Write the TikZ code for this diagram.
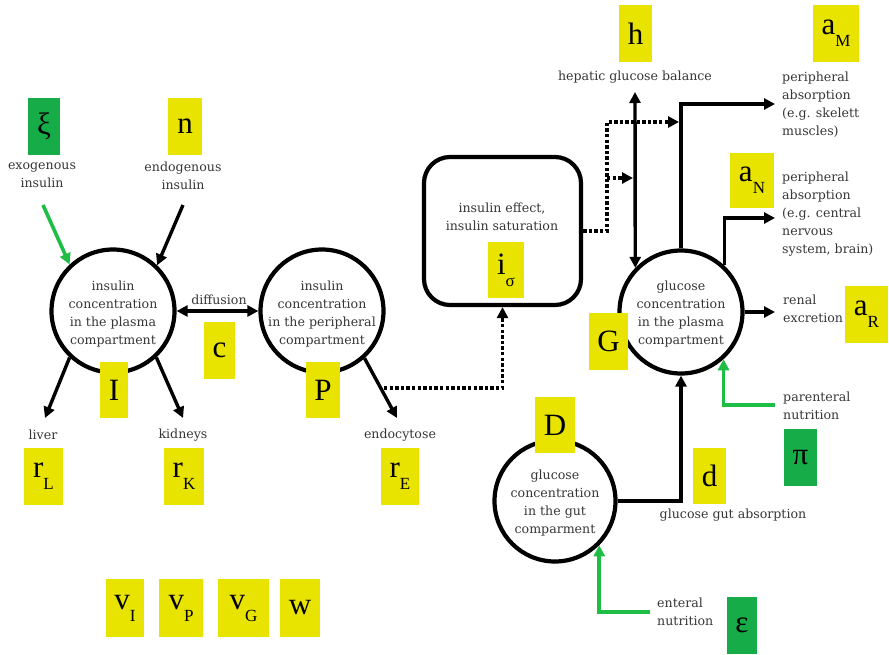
\documentclass[tikz,border=0pt]{standalone}
\usepackage{fontspec}
\setmainfont{DejaVu Serif}
\newfontfamily\symfont{Liberation Serif}
\usetikzlibrary{arrows.meta}
\definecolor{yel}{RGB}{233,227,0}
\definecolor{grn}{RGB}{22,172,72}
\definecolor{agrn}{RGB}{30,190,70}
\definecolor{txt}{RGB}{55,55,55}
\newcommand\bigsym[1]{{\symfont\fontsize{31}{31}\selectfont #1}}
\newcommand\subsym[2]{{\symfont\fontsize{31}{31}\selectfont #1\raisebox{-12pt}{\fontsize{17}{17}\selectfont #2}}}
\tikzset{
  circ/.style={circle, draw, line width=4.2pt, minimum size=123pt, inner sep=0pt},
  lbl/.style={text=txt, font=\fontsize{12.6}{18}\selectfont, align=center, inner sep=0pt},
  lbll/.style={lbl, align=left, anchor=west},
  ybox/.style={fill=yel, inner sep=0pt, outer sep=0pt},
  gbox/.style={fill=grn, inner sep=0pt, outer sep=0pt},
  arr/.style={line width=3.4pt, -{Triangle[length=11pt,width=11pt]}},
  darr/.style={line width=3.4pt, {Triangle[length=11pt,width=11pt]}-{Triangle[length=11pt,width=11pt]}},
  garr/.style={line width=3.6pt, draw=agrn, -{Triangle[length=11pt,width=11pt]}, agrn},
  dotarr/.style={line width=3.6pt, dash pattern=on 3.4pt off 2.2pt, -{Triangle[length=11pt,width=11pt]}}
}
\begin{document}
\begin{tikzpicture}[x=1pt,y=-1pt]
\useasboundingbox (0,0) rectangle (889,654);
\fill[white] (0,0) rectangle (889,654);

% compartments
\node[circ] (I) at (113,311) {};
\node[circ] (P) at (322,311) {};
\node[circ] (G) at (681,312) {};
\node[circ, minimum size=121pt] (D) at (555,501) {};
\node[draw, line width=4.2pt, rounded corners=26pt, minimum width=157pt, minimum height=148pt, inner sep=0pt] (eff) at (502.5,231) {};

\node[lbl] (tI) at (113,314) {insulin\\concentration\\in the plasma\\compartment};
\node[lbl] (tP) at (322,314) {insulin\\concentration\\in the peripheral\\compartment};
\node[lbl] (tG) at (681,314) {glucose\\concentration\\in the plasma\\compartment};
\node[lbl] (tD) at (555,503) {glucose\\concentration\\in the gut\\comparment};
\node[lbl] (teff) at (502,217) {insulin effect,\\insulin saturation};

% other texts
\node[lbl] (texo) at (42,175.5) {exogenous\\insulin};
\node[lbl] (tendo) at (183,175.5) {endogenous\\insulin};
\node[lbl] (tdiff) at (219,300) {diffusion};
\node[lbl] (tliv) at (43,435) {liver};
\node[lbl] (tkid) at (183,435) {kidneys};
\node[lbl] (tendc) at (400,435) {endocytose};
\node[lbl] (thep) at (635,77) {hepatic glucose balance};
\node[lbll] (taM) at (782,104.5) {peripheral\\absorption\\(e.g. skelett\\muscles)};
\node[lbll] (taN) at (782,214) {peripheral\\absorption\\(e.g. central\\nervous\\system, brain)};
\node[lbll] (tren) at (783,309) {renal\\excretion};
\node[lbll] (tpar) at (783,406) {parenteral\\nutrition};
\node[lbl] (tgut) at (733,515) {glucose gut absorption};
\node[lbll] (tent) at (657,612) {enteral\\nutrition};

% connectors
\coordinate (xiS) at (43,205);
\draw[garr] (xiS) -- (I.133);
\coordinate (nS) at (183,205);
\draw[arr] (nS) -- (I.46);
\coordinate (liv) at (45,418);
\draw[arr] (I.-133) -- (liv);
\coordinate (kid) at (183,418);
\draw[arr] (I.-47) -- (kid);
\draw[darr] (I.east) -- (P.west);
\coordinate (endo) at (397,418);
\draw[arr] (P.-48) -- (endo);
\coordinate (pd) at (384,388);
\draw[dotarr] (pd) -| (eff.south);
\coordinate (d1) at (607,231);
\coordinate (d2) at (607,122);
\coordinate (dE) at (679,122);
\coordinate (hb) at (607,178);
\coordinate (hE) at (633,178);
\draw[dotarr] (eff.east) -- (d1) -- (d2) -- (dE);
\draw[dotarr] (hb) -- (hE);
\coordinate (hT) at (635,92);
\draw[darr] (hT) -- (G.136);
\coordinate (aMe) at (775,104);
\draw[arr] (G.north) |- (aMe);
\coordinate (aNe) at (775,218);
\draw[arr] (G.47) |- (aNe);
\coordinate (rnE) at (775,312);
\draw[arr] (G.east) -- (rnE);
\coordinate (pS) at (775,405);
\draw[garr] (pS) -| (G.-48);
\draw[arr] (D.east) -| (G.south);
\coordinate (eS) at (650,612);
\draw[garr] (eS) -| (D.-45);

% parameter boxes
\node[gbox, minimum width=32pt, minimum height=57pt] (bxi) at (44,126.5) {\bigsym{ξ}};
\node[ybox, minimum width=34pt, minimum height=57pt] (bn) at (185,126.5) {\bigsym{n}};
\node[ybox, minimum width=28pt, minimum height=56pt] (bI) at (114,390) {\bigsym{I}};
\node[ybox, minimum width=31pt, minimum height=57pt] (bc) at (219.5,350.5) {\bigsym{c}};
\node[ybox, minimum width=34pt, minimum height=56pt] (bP) at (323,390) {\bigsym{P}};
\node[ybox, minimum width=39pt, minimum height=57pt] (brL) at (43.5,476.5) {\subsym{r}{L}};
\node[ybox, minimum width=40pt, minimum height=57pt] (brK) at (184,476.5) {\subsym{r}{K}};
\node[ybox, minimum width=38pt, minimum height=57pt] (brE) at (400,476.5) {\subsym{r}{E}};
\node[ybox, minimum width=36pt, minimum height=56pt] (bis) at (506,270) {\subsym{i}{σ}};
\node[ybox, minimum width=33pt, minimum height=57pt] (bh) at (635.5,33.5) {\bigsym{h}};
\node[ybox, minimum width=46pt, minimum height=57pt] (baM) at (836,33.5) {\subsym{a}{M}};
\node[ybox, minimum width=44pt, minimum height=55pt] (baN) at (752,180.5) {\subsym{a}{N}};
\node[ybox, minimum width=43pt, minimum height=57pt] (baR) at (866.5,314.5) {\subsym{a}{R}};
\node[ybox, minimum width=39pt, minimum height=57pt] (bG) at (608.5,341.5) {\bigsym{G}};
\node[gbox, minimum width=33pt, minimum height=57pt] (bpi) at (800.5,457.5) {\bigsym{π}};
\node[ybox, minimum width=40pt, minimum height=56pt] (bD) at (555,425) {\bigsym{D}};
\node[ybox, minimum width=33pt, minimum height=56pt] (bd) at (709.5,476) {\bigsym{d}};
\node[gbox, minimum width=30pt, minimum height=57pt] (beps) at (742,625.5) {\bigsym{ε}};
\node[ybox, minimum width=38pt, minimum height=58pt] (bvI) at (125,608) {\subsym{v}{I}};
\node[ybox, minimum width=44pt, minimum height=58pt] (bvP) at (181,608) {\subsym{v}{P}};
\node[ybox, minimum width=51pt, minimum height=58pt] (bvG) at (243.5,608) {\subsym{v}{G}};
\node[ybox, minimum width=40pt, minimum height=58pt] (bw) at (300,608) {\bigsym{w}};
\end{tikzpicture}
\end{document}
